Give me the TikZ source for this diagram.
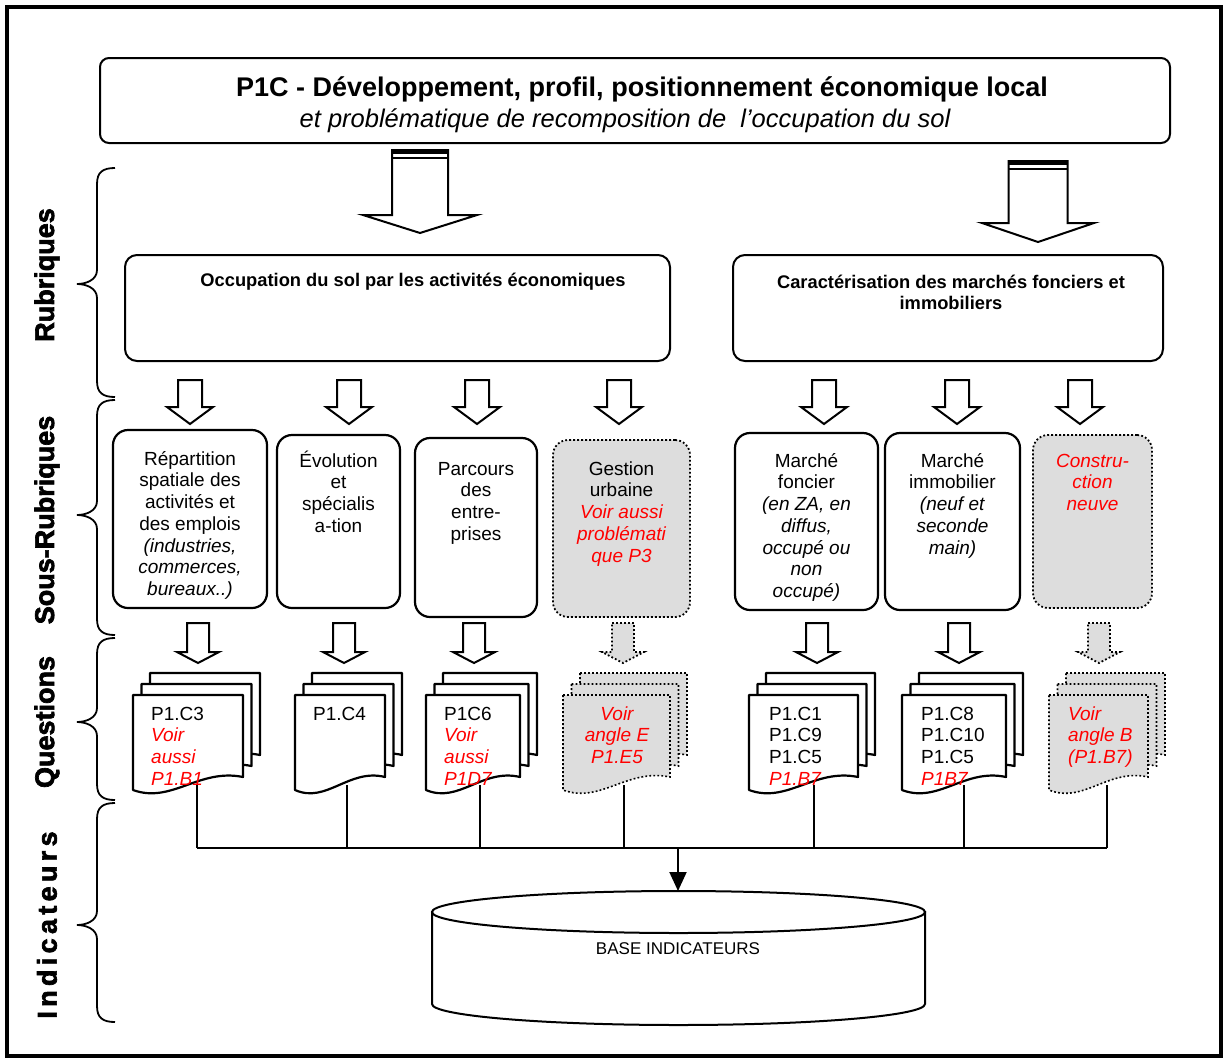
\documentclass[tikz,border=0pt]{standalone}
\usepackage{fontspec}
\setmainfont{Liberation Sans}
\usetikzlibrary{arrows.meta}
\font\labfont="Liberation Sans/B:embolden=2.5" at 27pt
\font\labfontwide="Liberation Sans/B:embolden=2.5;letterspace=16" at 27pt
\definecolor{greyfill}{RGB}{221,221,221}
\definecolor{redtxt}{RGB}{255,0,0}
\newcommand{\redit}[1]{{\color{redtxt}\itshape #1}}
\newcommand{\fsbox}{\fontsize{19}{21.7}\selectfont}
\newcommand{\firstrule}{\rule{0pt}{18pt}}
\newcommand{\blockarrow}[7]{%
  \draw[#1] ({#2-#6},#3) -- ({#2+#6},#3) -- ({#2+#6},#4) -- ({#2+#7},#4) -- (#2,#5) -- ({#2-#7},#4) -- ({#2-#6},#4) -- cycle;}
\newcommand{\docpage}[3]{%
  \draw[#1] (#2,695) -- (#3,695) -- (#3,777) .. controls ({#2+0.6*(#3-#2)},768) and ({#2+0.35*(#3-#2)},804) .. (#2,790) -- cycle;}
\newcommand{\docstack}[3]{%
  \begin{scope}[shift={(17,-22)}]\docpage{#1}{#2}{#3}\end{scope}
  \begin{scope}[shift={(8.5,-11)}]\docpage{#1}{#2}{#3}\end{scope}
  \docpage{#1}{#2}{#3}}
\newcommand{\sidebrace}[3]{%
  \draw[sidebr] (115,#1) .. controls (103,#1) and (97,{#1+4}) .. (97,{#1+16}) -- (97,{#2-14}) .. controls (97,{#2-4}) and (86,#2) .. (77,#2) .. controls (86,#2) and (97,{#2+4}) .. (97,{#2+14}) -- (97,{#3-16}) .. controls (97,{#3-4}) and (103,#3) .. (115,#3);}
\tikzset{
  outerframe/.style={line width=3.5},
  tbox/.style={draw, line width=2, rounded corners=9, inner sep=0},
  rbox/.style={draw, line width=2, rounded corners=12, inner sep=0},
  sbox/.style={draw, line width=2.2, rounded corners=15, inner sep=0},
  gbox/.style={fill=greyfill, draw=black, line width=1.8, dash pattern=on 1.8pt off 2.2pt, rounded corners=15, inner sep=0},
  stext/.style={font=\fsbox, align=center, anchor=north, inner sep=0},
  qtext/.style={font=\fsbox, align=left, anchor=north west, inner sep=0},
  rtext/.style={font=\fontsize{18.3}{21}\selectfont\bfseries, align=center, inner sep=0},
  lab/.style={font=\labfont, rotate=90, inner sep=0},
  barrow/.style={draw, line width=2, fill=white, line join=miter},
  sarrow/.style={draw, line width=2, fill=white, line join=miter},
  garrow/.style={fill=greyfill, draw=black, line width=1.8, dash pattern=on 1.8pt off 2.2pt},
  docpg/.style={draw, line width=2.2, fill=white, line join=round},
  gdocpg/.style={fill=greyfill, draw=black, line width=1.6, dash pattern=on 1.8pt off 2.2pt},
  conn/.style={line width=2},
  sidebr/.style={line width=1.8}
}
\begin{document}
\begin{tikzpicture}[x=1pt,y=-1pt]
\useasboundingbox (0,0) rectangle (1228,1063);
\fill[white] (0,0) rectangle (1228,1063);
\draw[outerframe] (7,7) rectangle (1221,1056);

% title
\node[tbox, minimum width=1070, minimum height=85] (title) at (635,100.5) {};
\node[font=\fontsize{27}{32}\selectfont\bfseries, inner sep=0] (t1) at (642,89) {P1C - Développement, profil, positionnement économique local};
\node[font=\fontsize{25.5}{30}\selectfont\itshape, inner sep=0] (t2) at (625,121) {et problématique de recomposition de\ \ l’occupation du sol};

% big arrows
\blockarrow{barrow}{420}{150}{215}{233}{28}{57}
\fill (392,150) rectangle (448,154);
\draw[line width=1.2] (392,158) -- (448,158);
\blockarrow{barrow}{1038}{161}{223}{242}{29.5}{56}
\fill (1008.5,161) rectangle (1067.5,165);
\draw[line width=1.2] (1008.5,169) -- (1067.5,169);

% rubriques
\node[rbox, minimum width=545, minimum height=106] (r1) at (397.5,308) {};
\node[rbox, minimum width=430, minimum height=106] (r2) at (948,308) {};
\node[rtext] (r1t) at (413,282) {Occupation du sol par les activités économiques};
\node[rtext] (r2t) at (951,292) {Caractérisation des marchés fonciers et\\immobiliers};

% row 1 arrows
\foreach \cx in {190,349,477,619,824,957,1080} {\blockarrow{sarrow}{\cx}{380}{407}{424}{12}{23}}

% sous-rubriques
\node[sbox, minimum width=154, minimum height=178] (s1) at (190,519) {};
\node[sbox, minimum width=123, minimum height=173] (s2) at (338.5,521.5) {};
\node[sbox, minimum width=122, minimum height=179] (s3) at (476,527.5) {};
\node[gbox, minimum width=137, minimum height=177] (s4) at (621.5,528.5) {};
\node[sbox, minimum width=143, minimum height=177] (s5) at (806.5,521.5) {};
\node[sbox, minimum width=135, minimum height=177] (s6) at (952.5,521.5) {};
\node[gbox, minimum width=119, minimum height=173] (s7) at (1092.5,521.5) {};

\node[stext] (s1t) at (190,447) {\firstrule Répartition\\spatiale des\\activités et\\des emplois\\\textit{(industries,}\\\textit{commerces,}\\\textit{bureaux..)}};
\node[stext] (s2t) at (338.5,449) {\firstrule Évolution\\et\\spécialis\\a-tion};
\node[stext] (s3t) at (476,457) {\firstrule Parcours\\des\\entre-\\prises};
\node[stext] (s4t) at (621.5,457) {\firstrule Gestion\\urbaine\\\redit{Voir aussi}\\\redit{problémati}\\\redit{que P3}};
\node[stext] (s5t) at (806.5,449) {\firstrule Marché\\foncier\\\textit{(en ZA, en}\\\textit{diffus,}\\\textit{occupé ou}\\\textit{non}\\\textit{occupé)}};
\node[stext] (s6t) at (952.5,449) {\firstrule Marché\\immobilier\\\textit{(neuf et}\\\textit{seconde}\\\textit{main)}};
\node[stext] (s7t) at (1092.5,449) {\firstrule\redit{Constru-}\\\redit{ction}\\\redit{neuve}};

% row 2 arrows
\foreach \cx in {198,344,474,817,959} {\blockarrow{sarrow}{\cx}{623}{652}{663}{11}{21}}
\blockarrow{garrow}{623}{623}{652}{663}{11}{21}
\blockarrow{garrow}{1099}{623}{652}{663}{11}{21}

% connectors
\coordinate (q1) at (197,785);
\coordinate (q2) at (347,785);
\coordinate (q3) at (480,785);
\coordinate (q4) at (624,785);
\coordinate (q5) at (814,785);
\coordinate (q6) at (964,785);
\coordinate (q7) at (1107,785);
\coordinate (bus) at (678,848);
\coordinate (db) at (678,891);
\foreach \q in {q1,q2,q3,q4,q5,q6,q7} {\draw[conn] (\q) -- (\q |- bus);}
\draw[conn] (q1 |- bus) -- (q7 |- bus);
\draw[conn, -{Triangle[length=19pt,width=17pt]}] (bus) -- (db);

% document stacks
\docstack{docpg}{133}{243}
\docstack{docpg}{295}{385}
\docstack{docpg}{426}{520}
\docstack{gdocpg}{563}{670}
\docstack{docpg}{749}{858}
\docstack{docpg}{902}{1006}
\docstack{gdocpg}{1049}{1148}

\node[qtext] (q1t) at (151,702) {\firstrule P1.C3\\\redit{Voir}\\\redit{aussi}\\\redit{P1.B1}};
\node[qtext] (q2t) at (313,702) {\firstrule P1.C4};
\node[qtext] (q3t) at (444,702) {\firstrule P1C6\\\redit{Voir}\\\redit{aussi}\\\redit{P1D7}};
\node[stext] (q4t) at (617,702) {\firstrule\redit{Voir}\\\redit{angle E}\\\redit{P1.E5}};
\node[qtext] (q5t) at (769,702) {\firstrule P1.C1\\P1.C9\\P1.C5\\\redit{P1.B7}};
\node[qtext] (q6t) at (921,702) {\firstrule P1.C8\\P1.C10\\P1.C5\\\redit{P1B7}};
\node[qtext] (q7t) at (1068,702) {\firstrule\redit{Voir}\\\redit{angle B}\\\redit{(P1.B7)}};

% database cylinder
\draw[conn, fill=white] (432,912) -- (432,1004) arc[start angle=180, end angle=0, x radius=246.5, y radius=21] -- (925,912) -- cycle;
\draw[conn, fill=white] (678.5,912) ellipse [x radius=246.5, y radius=21];
\node[font=\fontsize{17}{20}\selectfont, inner sep=0] (dbt) at (678,949) {BASE INDICATEURS};

% side labels and braces
\node[lab] (l1) at (47,275) {Rubriques};
\node[lab] (l2) at (47,520) {Sous-Rubriques};
\node[lab] (l3) at (47,722) {Questions};
\node[lab, font=\labfontwide] (l4) at (47,925) {Indicateurs};
\sidebrace{168}{284}{397}
\sidebrace{400}{515}{635}
\sidebrace{638}{722}{800}
\sidebrace{803}{925}{1022}
\end{tikzpicture}
\end{document}
